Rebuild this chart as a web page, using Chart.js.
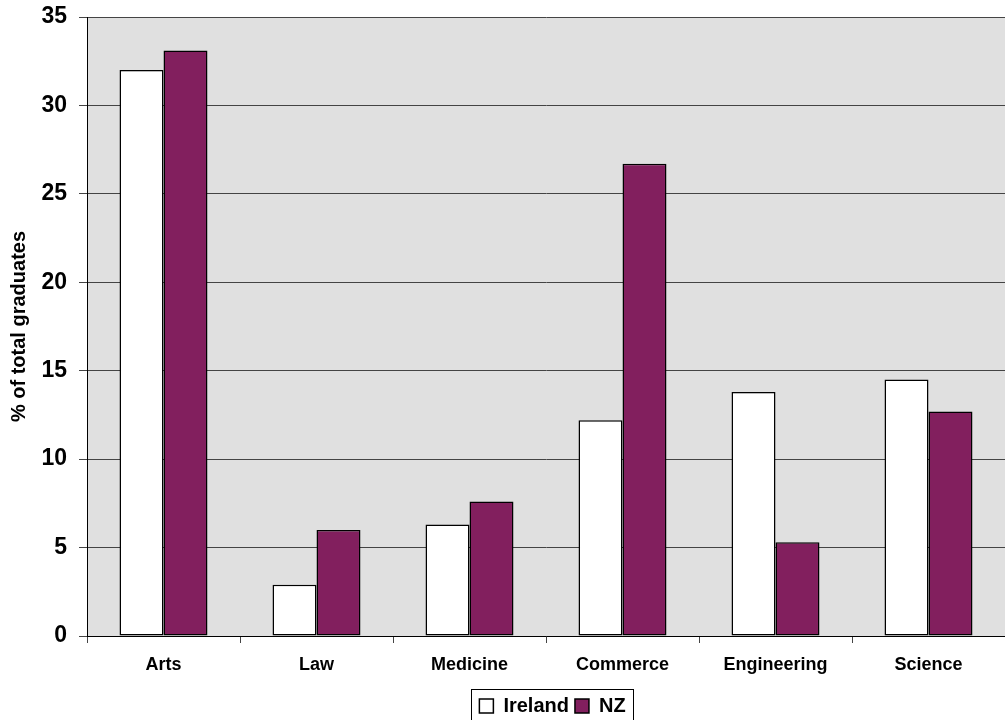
<!DOCTYPE html>
<html>
<head>
<meta charset="utf-8">
<script src="https://cdn.jsdelivr.net/npm/chart.js@4"></script>
<style>
  html, body { margin: 0; padding: 0; background: #fff; }
  #wrap { width: 1005px; height: 720px; }
</style>
</head>
<body>
<div id="wrap"><canvas id="myChart"></canvas></div>
<script>
const categories = ['Arts', 'Law', 'Medicine', 'Commerce', 'Engineering', 'Science'];
const ireland = [32, 2.9, 6.3, 12.2, 13.8, 14.5];
const nz = [33.1, 6.0, 7.6, 26.7, 5.3, 12.7];
const yTicks = [0, 5, 10, 15, 20, 25, 30, 35];

const font = "'Liberation Sans', Arial, sans-serif";

// grey plot area, like the old spreadsheet charts
const plotBg = {
    id: 'plotBg',
    beforeDraw(chart) {
        const { ctx, chartArea: a } = chart;
        ctx.save();
        ctx.fillStyle = '#e0e0e0';
        ctx.fillRect(a.left, a.top, a.right - a.left, a.bottom - a.top);
        ctx.restore();
    }
};

// move the legend under the plot centre and frame it
const legendBox = {
    id: 'legendBox',
    afterLayout(chart) {
        const lg = chart.legend, a = chart.chartArea;
        const dx = Math.round((a.left + a.right) / 2 + 6 - (lg.left + lg.right) / 2);
        const dy = Math.round(a.bottom + 54 - lg.top);
        lg.left += dx; lg.right += dx;
        lg.top += dy; lg.bottom += dy;
    },
    afterDraw(chart) {
        const lg = chart.legend;
        if (!lg.lineWidths) return;
        const ctx = chart.ctx;
        const w = lg.lineWidths[0];
        const cx = (lg.left + lg.right) / 2;
        const x0 = Math.round(cx - w / 2) - 5;
        const y0 = Math.round(lg.top + lg.options.labels.padding) - 7;
        ctx.save();
        ctx.strokeStyle = '#000';
        ctx.lineWidth = 1;
        ctx.strokeRect(x0 + 0.5, y0 + 0.5, Math.round(w) + 10, 40);
        ctx.restore();
    }
};

const ctx = document.getElementById('myChart');

new Chart(ctx, {
    type: 'bar',
    data: {
        labels: categories,
        datasets: [{
            label: 'Ireland',
            data: ireland,
            backgroundColor: '#ffffff',
            borderColor: '#000',
            borderWidth: 1.5,
            borderSkipped: false
        },
        {
            label: 'NZ',
            data: nz,
            backgroundColor: '#821f5e',
            borderColor: '#000',
            borderWidth: 1.5,
            borderSkipped: false
        }]
    },
    options: {
        responsive: true,
        maintainAspectRatio: false,
        animation: false,
        layout: { padding: { top: 17, right: 0, left: 0, bottom: 0 } },
        datasets: {
            bar: { categoryPercentage: 0.575, barPercentage: 1 }
        },
        plugins: {
            tooltip: { enabled: false },
            legend: {
                position: 'bottom',
                labels: {
                    color: '#000',
                    font: { family: font, size: 20, weight: 'bold' },
                    boxWidth: 14,
                    boxHeight: 14,
                    padding: 6
                }
            }
        },
        scales: {
            x: {
                offset: true,
                grid: {
                    offset: true,
                    drawOnChartArea: false,
                    color: '#444',
                    tickLength: 7,
                    tickColor: '#444'
                },
                border: { color: '#000', width: 1 },
                ticks: {
                    color: '#000',
                    font: { family: font, size: 18, weight: 'bold' },
                    padding: 11,
                    maxRotation: 0
                },
                afterFit(scale) { scale.height = 48; }
            },
            y: {
                min: 0,
                max: 35,
                afterBuildTicks(scale) {
                    scale.ticks = yTicks.map(v => ({ value: v }));
                },
                grid: {
                    color: '#444',
                    tickLength: 8,
                    tickColor: '#444'
                },
                border: { color: '#000', width: 1 },
                ticks: {
                    color: '#000',
                    font: { family: font, size: 23, weight: 'bold' },
                    padding: 12
                },
                title: {
                    display: true,
                    text: '% of total graduates',
                    color: '#000',
                    font: { family: font, size: 20, weight: 'bold' },
                    padding: { top: 7, bottom: 8 }
                },
                afterFit(scale) {
                    scale.width = 87;
                    scale.paddingTop = 0;
                    scale.paddingBottom = 0;
                }
            }
        }
    },
    plugins: [plotBg, legendBox]
});
</script>
</body>
</html>
